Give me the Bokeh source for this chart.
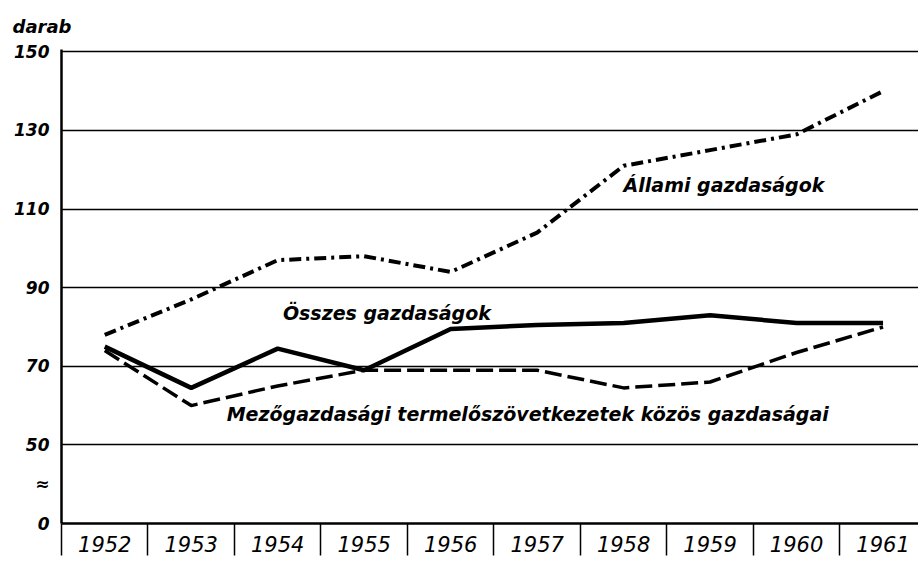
from bokeh.plotting import figure
from bokeh.models import FixedTicker, Range1d
from bokeh.embed import file_html
from bokeh.resources import INLINE

# ---- data ----
years = ["1952", "1953", "1954", "1955", "1956", "1957", "1958", "1959", "1960", "1961"]
allami = [78, 87, 97, 98, 94, 104, 121, 125, 129, 140]
osszes = [75, 64.5, 74.5, 69, 79.5, 80.5, 81, 83, 81, 81]
mezo = [74, 60, 65, 69, 69, 69, 64.5, 66, 73.5, 80]
y_ticks = [30, 40, 50, 70, 90, 110, 130, 150]
y_tick_labels = {30: "0", 40: "≈"}
grid_levels = [50, 70, 90, 110, 130, 150]
y_unit = "darab"

xs = list(range(len(years)))
X0 = -0.5
X_END = 9.41

FONT = "DejaVu Sans"

p = figure(width=918, height=562, output_backend="svg", toolbar_location=None,
           x_range=Range1d(X0, X_END), y_range=Range1d(30, 150.6),
           min_border_left=61, min_border_right=0, min_border_top=49, min_border_bottom=39)
p.outline_line_color = None
p.background_fill_color = "white"
p.border_fill_color = "white"

# unit label ("darab") as a left-aligned title
p.title.text = y_unit + "\n"
p.title.text_line_height = 0.35
p.title.align = "left"
p.title.offset = -49
p.title.text_font = FONT
p.title.text_font_style = "bold italic"
p.title.text_font_size = "18px"
p.title.text_color = "black"

# y axis
p.yaxis.ticker = FixedTicker(ticks=y_ticks)
p.yaxis.major_label_overrides = y_tick_labels
p.yaxis.axis_line_width = 2.5
p.yaxis.axis_line_color = "black"
p.yaxis.major_tick_line_color = None
p.yaxis.minor_tick_line_color = None
p.yaxis.major_label_standoff = 6
p.yaxis.major_label_text_font = FONT
p.yaxis.major_label_text_font_style = "bold italic"
p.yaxis.major_label_text_font_size = "17px"
p.yaxis.major_label_text_color = "black"

# x axis with category separators (minor ticks)
p.xaxis.ticker = FixedTicker(ticks=xs, minor_ticks=[x - 0.5 for x in xs] + [len(xs) - 0.5])
p.xaxis.major_label_overrides = {i: y for i, y in enumerate(years)}
p.xaxis.axis_line_width = 2.5
p.xaxis.axis_line_color = "black"
p.xaxis.major_tick_out = 0
p.xaxis.major_tick_in = 0
p.xaxis.minor_tick_out = 32
p.xaxis.minor_tick_in = 0
p.xaxis.minor_tick_line_width = 1.5
p.xaxis.minor_tick_line_color = "black"
p.xaxis.major_label_standoff = -20
p.xaxis.major_label_text_font = FONT
p.xaxis.major_label_text_font_style = "italic"
p.xaxis.major_label_text_font_size = "21px"
p.xaxis.major_label_text_color = "black"

# horizontal grid lines
p.xgrid.grid_line_color = None
p.ygrid.ticker = FixedTicker(ticks=grid_levels)
p.ygrid.grid_line_color = "black"
p.ygrid.grid_line_width = 1.5

# lines
p.line(xs, allami, line_color="black", line_width=4, line_dash="12 5 3 5")
p.line(xs, osszes, line_color="black", line_width=4.5)
p.line(xs, mezo, line_color="black", line_width=3.5, line_dash="17 6")

def lab(x, y, text, size="19px", align="left", style="bold italic"):
    p.text(x=[x], y=[y], text=[text], text_font={"value": FONT}, text_font_style=style,
           text_font_size=size, text_align=align, text_baseline="middle", text_color="black")

lab(6.0, 116, "Állami gazdaságok")
lab(2.06, 83.5, "Összes gazdaságok")
lab(1.41, 57.9, "Mezőgazdasági termelőszövetkezetek közös gazdaságai")

open("out.html", "w").write(file_html(p, INLINE))
